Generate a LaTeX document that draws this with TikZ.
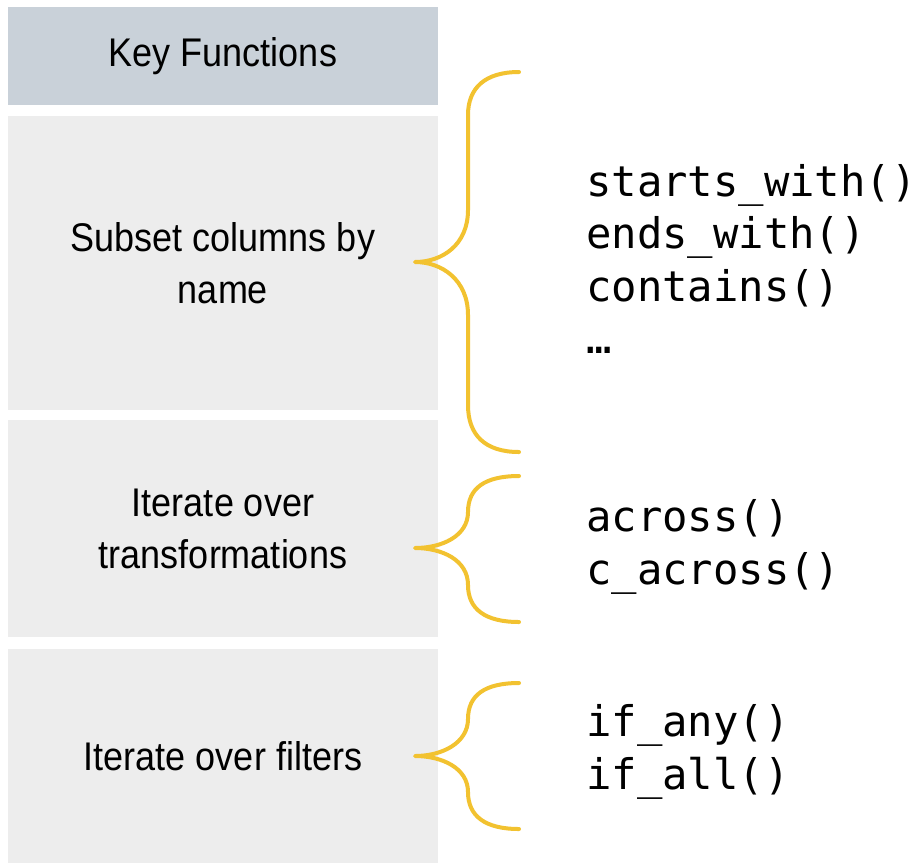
\documentclass[tikz,border=0pt]{standalone}
\usepackage{fontspec}
\setmainfont[FakeStretch=0.9]{Liberation Sans}
\newfontfamily\codefont{DejaVu Sans Mono}
\definecolor{hdrgray}{HTML}{C9D1D9}
\definecolor{boxgray}{HTML}{EDEDED}
\definecolor{braceyel}{HTML}{F2C230}
\begin{document}
\begin{tikzpicture}[x=1pt,y=-1pt,
  panel/.style={fill=boxgray, draw=none, minimum width=430pt, inner sep=0pt, align=center,
    font=\fontsize{40}{52}\selectfont},
  hdrpanel/.style={panel, fill=hdrgray},
  codetext/.style={anchor=west, align=left, inner sep=0pt,
    font=\codefont\fontsize{42.2}{52.5}\selectfont},
  bracestyle/.style={draw=braceyel, line width=4pt, line cap=round, line join=round}]
\useasboundingbox (0,0) rectangle (917,863);
\node[hdrpanel, minimum height=98pt] (hdr) at (223,56) {Key Functions};
\node[panel, minimum height=294pt] (subset) at (223,263) {Subset columns by\\name};
\node[panel, minimum height=217pt] (iter) at (223,528.5) {Iterate over\\transformations};
\node[panel, minimum height=214pt] (filt) at (223,756) {Iterate over filters};
\node[codetext] (c1) at (586,259) {starts\_with()\\ends\_with()\\contains()\\…};
\node[codetext] (c2) at (586,547) {across()\\c\_across()};
\node[codetext] (c3) at (586,752) {if\_any()\\if\_all()};
\coordinate (t1) at (415,262);
\coordinate (t2) at (415,548);
\coordinate (t3) at (415,756);
\draw[bracestyle] (519,72) .. controls (485,72) and (468,88) .. (468,115) -- (468,210)
  .. controls (468,245) and (442,262) .. (t1)
  .. controls (442,262) and (468,280) .. (468,315) -- (468,405)
  .. controls (468,435) and (485,452) .. (519,452);
\draw[bracestyle] (519,476) .. controls (485,476) and (468,488) .. (468,512)
  .. controls (468,536) and (442,548) .. (t2)
  .. controls (442,548) and (468,560) .. (468,585)
  .. controls (468,609) and (485,622) .. (519,622);
\draw[bracestyle] (519,683) .. controls (485,683) and (468,695) .. (468,719)
  .. controls (468,743) and (442,756) .. (t3)
  .. controls (442,756) and (468,768) .. (468,792)
  .. controls (468,816) and (485,829) .. (519,829);
\end{tikzpicture}
\end{document}
